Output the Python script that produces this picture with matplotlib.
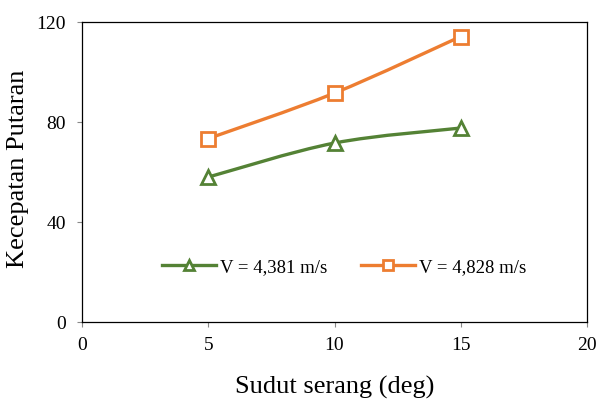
import matplotlib
matplotlib.use("Agg")
import matplotlib.pyplot as plt
from matplotlib.path import Path
from matplotlib.patches import PathPatch
from matplotlib.lines import Line2D
import numpy as np

# data
sudut = [5, 10, 15]
v_4381 = [58, 71.6, 77.6]
v_4828 = [73.4, 91.6, 114.2]
labels = ["V = 4,381 m/s", "V = 4,828 m/s"]

green = "#548235"
orange = "#ED7D31"

plt.rcParams["font.family"] = ["Liberation Serif", "DejaVu Serif"]


def smooth_path(xs, ys):
    # excel-like smoothed line: catmull-rom turned into cubic bezier segments
    pts = np.column_stack([xs, ys]).astype(float)
    n = len(pts)
    verts = [pts[0]]
    codes = [Path.MOVETO]
    for i in range(n - 1):
        p0 = pts[i - 1] if i > 0 else pts[i]
        p1 = pts[i]
        p2 = pts[i + 1]
        p3 = pts[i + 2] if i + 2 < n else pts[i + 1]
        c1 = p1 + (p2 - p0) / 6.0
        c2 = p2 - (p3 - p1) / 6.0
        verts += [c1, c2, p2]
        codes += [Path.CURVE4] * 3
    return Path(verts, codes)


fig = plt.figure(figsize=(6.0, 4.01), dpi=100)
ax = fig.add_axes([0.137, 0.197, 0.841, 0.748])

for ys, col, mk in [(v_4381, green, "^"), (v_4828, orange, "s")]:
    ax.add_patch(PathPatch(smooth_path(sudut, ys), facecolor="none", edgecolor=col, lw=2.4, zorder=2))
    ax.plot(sudut, ys, linestyle="none", marker=mk, markersize=10, markerfacecolor="white",
            markeredgecolor=col, markeredgewidth=2, zorder=3)

ax.set_xlim(0, 20)
ax.set_ylim(0, 120)
ax.set_xticks([0, 5, 10, 15, 20])
ax.set_yticks([0, 40, 80, 120])
ax.tick_params(labelsize=14, direction="out", length=3.6, width=0.8, color="#888888")
ax.tick_params(axis="x", pad=7)
ax.tick_params(axis="y", pad=8)
for s in ax.spines.values():
    s.set_linewidth(0.9)

ax.set_xlabel("Sudut serang (deg)", fontsize=19, labelpad=16)
ax.set_ylabel("Kecepatan Putaran", fontsize=19)
ax.yaxis.set_label_coords(-0.105, 0.512)

handles = [
    Line2D([], [], color=green, lw=2.4, marker="^", markersize=7, markerfacecolor="white",
           markeredgecolor=green, markeredgewidth=2),
    Line2D([], [], color=orange, lw=2.4, marker="s", markersize=7, markerfacecolor="white",
           markeredgecolor=orange, markeredgewidth=2),
]
ax.legend(handles, labels, loc="center", bbox_to_anchor=(0.519, 0.183), ncol=2, frameon=False,
          fontsize=13.5, handlelength=2.9, handletextpad=0.2, columnspacing=1.8)

fig.savefig("out.png", dpi=100)
